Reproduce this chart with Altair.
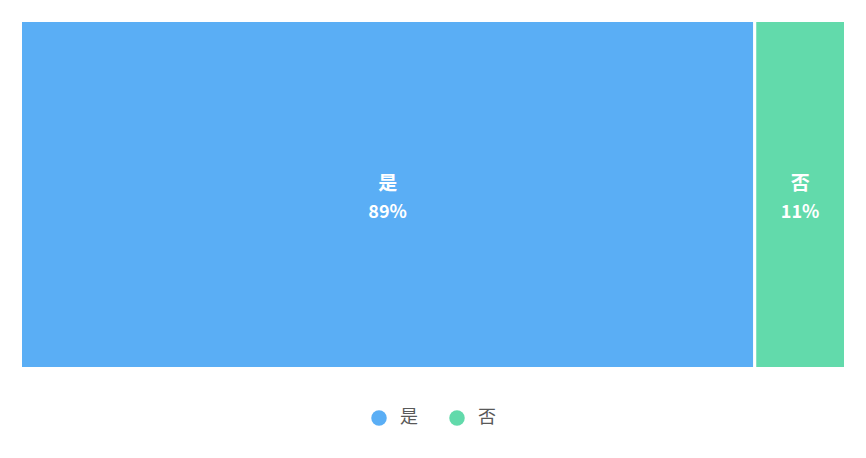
import altair as alt
import pandas as pd

categories = ["是", "否"]
values = [89, 11]
colors = ["#5AAEF5", "#62DAAB"]

df = pd.DataFrame({"cat": categories, "val": values, "order": list(range(len(categories)))})

FONT = "Noto Sans CJK SC"

base = alt.Chart(df).transform_window(
    cum="sum(val)", sort=[alt.SortField("order")]
).transform_calculate(
    start="datum.cum - datum.val",
    mid="datum.cum - datum.val / 2",
    label="datum.val + '%'",
)

xscale = alt.Scale(domain=[0, 100], nice=False, zero=True)

bars = base.mark_rect(stroke="white", strokeWidth=3).encode(
    x=alt.X("start:Q", scale=xscale, axis=None),
    x2="cum:Q",
    y=alt.value(0),
    y2=alt.value(348),
    color=alt.Color(
        "cat:N",
        scale=alt.Scale(domain=categories, range=colors),
        legend=alt.Legend(
            title=None,
            orient="none",
            direction="horizontal",
            legendX=349.5,
            legendY=388.5,
            symbolType="circle",
            symbolSize=240,
            symbolStrokeWidth=0,
            labelFontSize=18,
            labelFont=FONT,
            labelColor="#595959",
            labelOffset=12,
            columnPadding=30,
        ),
    ),
)

names = base.mark_text(color="white", fontSize=19, fontWeight="bold", font=FONT).encode(
    x=alt.X("mid:Q", scale=xscale),
    y=alt.value(163.5),
    text="cat:N",
)

pcts = base.mark_text(color="white", fontSize=18, fontWeight="bold", font=FONT).encode(
    x=alt.X("mid:Q", scale=xscale),
    y=alt.value(192.5),
    text="label:N",
)

chart = alt.layer(bars, names, pcts).properties(
    width=825,
    height=348,
    autosize=alt.AutoSizeParams(type="none"),
    padding={"left": 12.5, "top": 12.5, "right": 12.5, "bottom": 81.5},
).configure_view(stroke=None)

chart.save("out.html", embed_options={"renderer": "svg", "actions": False})
